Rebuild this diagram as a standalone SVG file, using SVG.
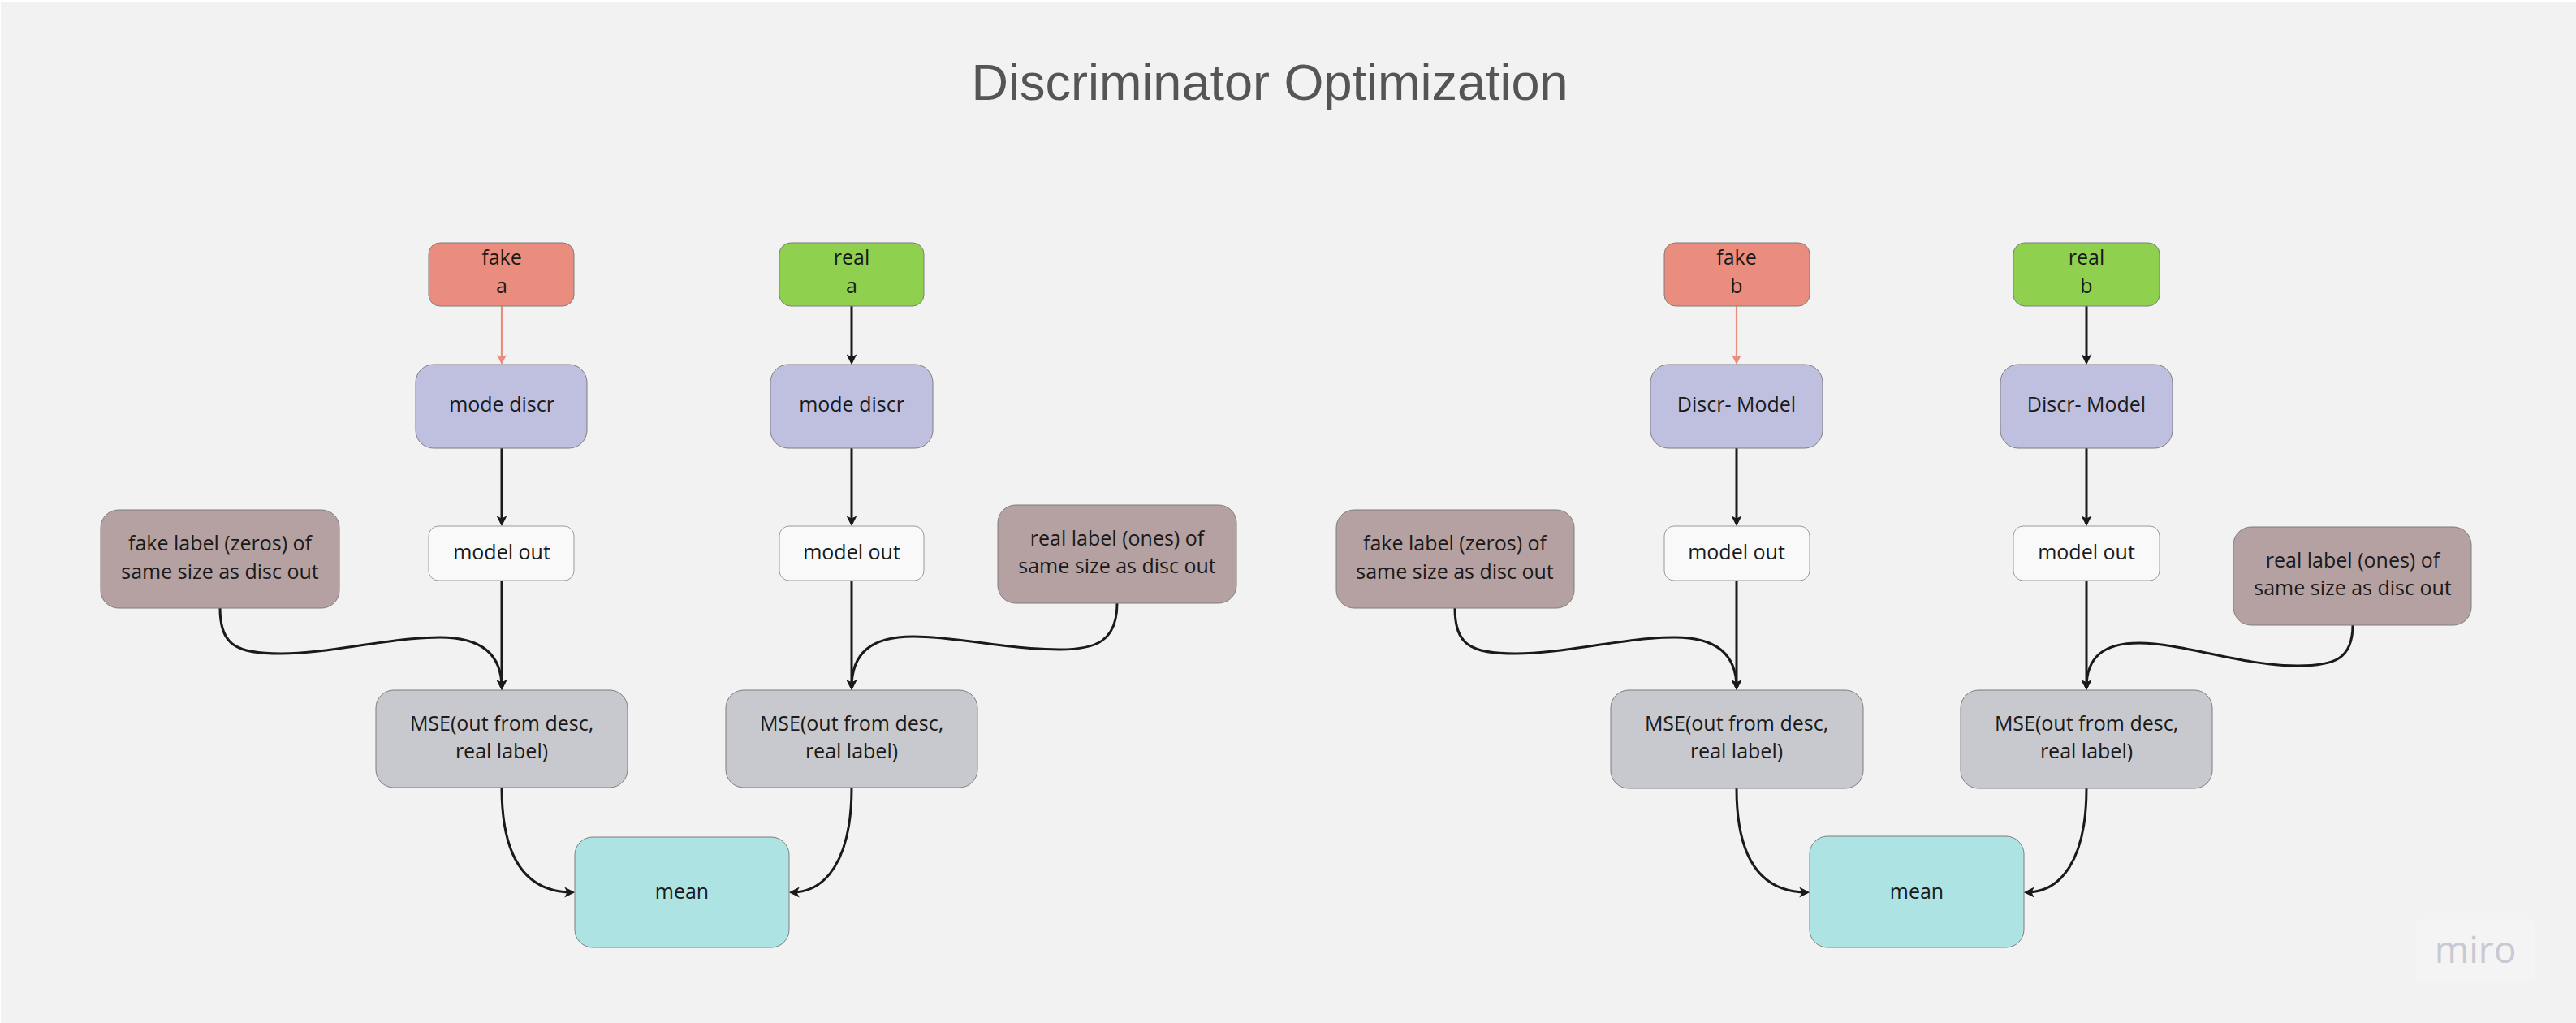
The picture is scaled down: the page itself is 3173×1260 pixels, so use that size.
<svg xmlns="http://www.w3.org/2000/svg" width="3173" height="1260" viewBox="0 0 3173 1260">
<style>
.n{stroke:#7d7d7d;stroke-width:1}
.fake{fill:#ea8d7e}
.real{fill:#8fd14f}
.disc{fill:#bfbfdf}
.out{fill:#f9f9f9;stroke:#9a9a9a}
.lab{fill:#b5a1a1}
.mse{fill:#c8c9ce}
.mean{fill:#ade3e2}
text{font-family:"Open Sans","Noto Sans","DejaVu Sans",sans-serif;font-size:25px;fill:#1a1a1a;text-anchor:middle}
.title{font-family:"Liberation Sans",Arial,sans-serif;font-size:63px;fill:#555555}
.c{fill:none;stroke:#1a1a1a;stroke-width:3}
.cf{fill:none;stroke:#ea8d7e;stroke-width:2.2}
</style>
<defs>
<marker id="ab" viewBox="0 0 12 12" refX="9" refY="6" markerWidth="13" markerHeight="13" markerUnits="userSpaceOnUse" orient="auto"><path d="M0,0 L12,6 L0,12 L3,6 Z" fill="#1a1a1a"/></marker>
<marker id="af" viewBox="0 0 12 12" refX="9" refY="6" markerWidth="12" markerHeight="12" markerUnits="userSpaceOnUse" orient="auto"><path d="M0,0 L12,6 L0,12 L3,6 Z" fill="#ea8d7e"/></marker>
</defs>
<rect x="0" y="0" width="3173" height="1260" fill="#ffffff"/>
<rect x="1" y="2" width="3172" height="1258" fill="#f2f2f2"/>
<text class="title" x="1564" y="123">Discriminator Optimization</text>

<g id="connectors">
<path class="cf" d="M618,377 L618,446" marker-end="url(#af)"/>
<path class="c" d="M1049,377 L1049,446" marker-end="url(#ab)"/>
<path class="c" d="M618,552 L618,645" marker-end="url(#ab)"/>
<path class="c" d="M1049,552 L1049,645" marker-end="url(#ab)"/>
<path class="c" d="M618,715 L618,847" marker-end="url(#ab)"/>
<path class="c" d="M1049,715 L1049,847" marker-end="url(#ab)"/>
<path class="c" d="M271,749 C271,795 291,805 346,805 C405,805 480,785 542,785 C592,785 618,805 618,847" marker-end="url(#ab)"/>
<path class="c" d="M1376,743 C1376,790 1350,800 1305,800 C1240,800 1180,784 1125,784 C1072,784 1049,805 1049,847" marker-end="url(#ab)"/>
<path class="c" d="M618,970 C618,1060 650,1099 705,1099" marker-end="url(#ab)"/>
<path class="c" d="M1049,970 C1049,1060 1017,1099 975,1099" marker-end="url(#ab)"/>

<path class="cf" d="M2139,377 L2139,446" marker-end="url(#af)"/>
<path class="c" d="M2570,377 L2570,446" marker-end="url(#ab)"/>
<path class="c" d="M2139,552 L2139,645" marker-end="url(#ab)"/>
<path class="c" d="M2570,552 L2570,645" marker-end="url(#ab)"/>
<path class="c" d="M2139,715 L2139,847" marker-end="url(#ab)"/>
<path class="c" d="M2570,715 L2570,847" marker-end="url(#ab)"/>
<path class="c" d="M1792,749 C1792,795 1812,805 1867,805 C1926,805 2001,785 2063,785 C2113,785 2139,805 2139,847" marker-end="url(#ab)"/>
<path class="c" d="M2898,770 C2898,812 2875,820 2830,820 C2760,820 2690,792 2635,792 C2590,792 2570,810 2570,847" marker-end="url(#ab)"/>
<path class="c" d="M2139,971 C2139,1060 2171,1099 2226,1099" marker-end="url(#ab)"/>
<path class="c" d="M2570,971 C2570,1060 2538,1099 2496,1099" marker-end="url(#ab)"/>
</g>

<g id="fake-a"><rect class="n fake" x="528" y="299" width="179" height="78" rx="14"/><text x="618" y="326">fake</text><text x="618" y="361">a</text></g>
<g id="real-a"><rect class="n real" x="960" y="299" width="178" height="78" rx="14"/><text x="1049" y="326">real</text><text x="1049" y="361">a</text></g>
<g id="discr-a1"><rect class="n disc" x="512" y="449" width="211" height="103" rx="22"/><text x="618" y="507">mode discr</text></g>
<g id="discr-a2"><rect class="n disc" x="949" y="449" width="200" height="103" rx="22"/><text x="1049" y="507">mode discr</text></g>
<g id="out-a1"><rect class="n out" x="528" y="648" width="179" height="67" rx="12"/><text x="618" y="689">model out</text></g>
<g id="out-a2"><rect class="n out" x="960" y="648" width="178" height="67" rx="12"/><text x="1049" y="689">model out</text></g>
<g id="fake-label-a"><rect class="n lab" x="124" y="628" width="294" height="121" rx="22"/><text x="271" y="678">fake label (zeros) of</text><text x="271" y="713">same size as disc out</text></g>
<g id="real-label-a"><rect class="n lab" x="1229" y="622" width="294" height="121" rx="22"/><text x="1376" y="672">real label (ones) of</text><text x="1376" y="706">same size as disc out</text></g>
<g id="mse-a1"><rect class="n mse" x="463" y="850" width="310" height="120" rx="22"/><text x="618" y="900">MSE(out from desc,</text><text x="618" y="934">real label)</text></g>
<g id="mse-a2"><rect class="n mse" x="894" y="850" width="310" height="120" rx="22"/><text x="1049" y="900">MSE(out from desc,</text><text x="1049" y="934">real label)</text></g>
<g id="mean-a"><rect class="n mean" x="708" y="1031" width="264" height="136" rx="22"/><text x="840" y="1107">mean</text></g>

<g id="fake-b"><rect class="n fake" x="2050" y="299" width="179" height="78" rx="14"/><text x="2139" y="326">fake</text><text x="2139" y="361">b</text></g>
<g id="real-b"><rect class="n real" x="2480" y="299" width="180" height="78" rx="14"/><text x="2570" y="326">real</text><text x="2570" y="361">b</text></g>
<g id="discr-b1"><rect class="n disc" x="2033" y="449" width="212" height="103" rx="22"/><text x="2139" y="507">Discr- Model</text></g>
<g id="discr-b2"><rect class="n disc" x="2464" y="449" width="212" height="103" rx="22"/><text x="2570" y="507">Discr- Model</text></g>
<g id="out-b1"><rect class="n out" x="2050" y="648" width="179" height="67" rx="12"/><text x="2139" y="689">model out</text></g>
<g id="out-b2"><rect class="n out" x="2480" y="648" width="180" height="67" rx="12"/><text x="2570" y="689">model out</text></g>
<g id="fake-label-b"><rect class="n lab" x="1646" y="628" width="293" height="121" rx="22"/><text x="1792" y="678">fake label (zeros) of</text><text x="1792" y="713">same size as disc out</text></g>
<g id="real-label-b"><rect class="n lab" x="2751" y="649" width="293" height="121" rx="22"/><text x="2898" y="699">real label (ones) of</text><text x="2898" y="733">same size as disc out</text></g>
<g id="mse-b1"><rect class="n mse" x="1984" y="850" width="311" height="121" rx="22"/><text x="2139" y="900">MSE(out from desc,</text><text x="2139" y="934">real label)</text></g>
<g id="mse-b2"><rect class="n mse" x="2415" y="850" width="310" height="121" rx="22"/><text x="2570" y="900">MSE(out from desc,</text><text x="2570" y="934">real label)</text></g>
<g id="mean-b"><rect class="n mean" x="2229" y="1030" width="264" height="137" rx="22"/><text x="2361" y="1107">mean</text></g>

<g id="miro-logo"><rect x="2976" y="1132" width="147" height="78" rx="6" fill="#f4f4f4"/><text x="3049" y="1186" style="font-size:46px;fill:#c9c9d3">miro</text></g>
</svg>
